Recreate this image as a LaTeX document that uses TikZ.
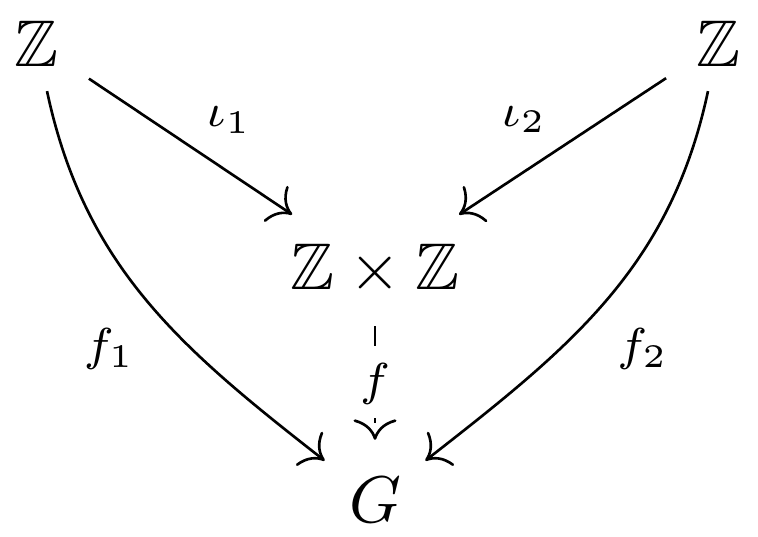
\documentclass[tikz,border=0pt]{standalone}
\usepackage{amssymb}
\usetikzlibrary{arrows.meta}
\begin{document}
\begin{tikzpicture}[x=0.1515pt,y=-0.1515pt,
  obj/.style={inner sep=3.5pt},
  arr/.style={-{To[scale=1.25]},line width=0.4pt},
  lab/.style={inner sep=2pt}]
\useasboundingbox (0,0) rectangle (758,537);
\node[obj] (zl) at (37,44) {$\mathbb{Z}$};
\node[obj] (zr) at (718,44) {$\mathbb{Z}$};
\node[obj] (zz) at (375,270) {$\mathbb{Z}\times\mathbb{Z}$};
\node[obj] (g) at (375,500) {$G$};
\draw[arr,shorten <=1pt,shorten >=1.5pt] (zl) -- node[lab,midway,above right=0pt] {$\scriptstyle\iota_1$} (zz);
\draw[arr,shorten <=1pt,shorten >=1.5pt] (zr) -- node[lab,midway,above left=0pt] {$\scriptstyle\iota_2$} (zz);
\draw[arr] (zl) to[out=-78,in=142] node[lab,pos=0.65,left=6.5pt] {$\scriptstyle f_1$} (g);
\draw[arr] (zr) to[out=-102,in=38] node[lab,pos=0.65,right=6.5pt] {$\scriptstyle f_2$} (g);
\draw[line width=0.4pt,dashed,shorten <=1pt,shorten >=4.5pt] (zz) -- node[lab,pos=0.48,fill=white] {$\scriptstyle f$} (g);
\draw[arr,shorten <=18pt,shorten >=2pt] (zz) -- (g);
\end{tikzpicture}
\end{document}
